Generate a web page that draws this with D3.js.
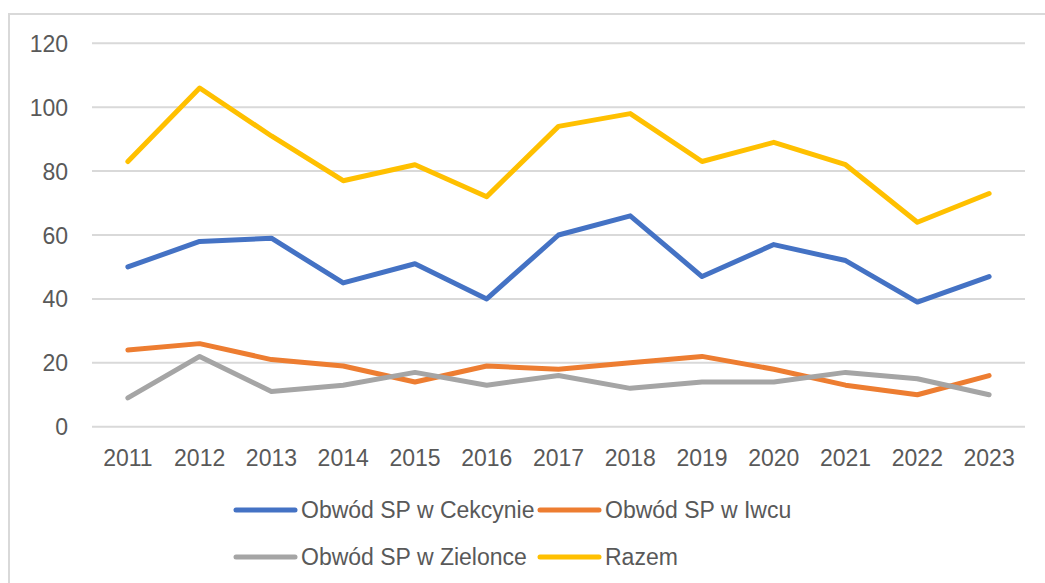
<!DOCTYPE html>
<html><head><meta charset="utf-8">
<script src="https://cdn.jsdelivr.net/npm/d3@7"></script>
<style>html,body{margin:0;padding:0;background:#fff;}svg{display:block;}</style>
</head><body>
<svg id="chart" width="1045" height="583"></svg>
<script>
const years = ["2011","2012","2013","2014","2015","2016","2017","2018","2019","2020","2021","2022","2023"];
const cekcyn = [50,58,59,45,51,40,60,66,47,57,52,39,47];
const iwiec = [24,26,21,19,14,19,18,20,22,18,13,10,16];
const zielonka = [9,22,11,13,17,13,16,12,14,14,17,15,10];
const razem = [83,106,91,77,82,72,94,98,83,89,82,64,73];
const yTicks = [0,20,40,60,80,100,120];
const seriesNames = ["Obwód SP w Cekcynie","Obwód SP w Iwcu","Obwód SP w Zielonce","Razem"];
const seriesColors = ["#4472C4","#ED7D31","#A5A5A5","#FFC000"];
const seriesData = [cekcyn, iwiec, zielonka, razem];

const svg = d3.select("#chart");
const font = "'Liberation Sans', Arial, sans-serif";
const textColor = "#595959";

// frame
svg.append("path").attr("d","M9,583 L9,14 L1045,14").attr("fill","none").attr("stroke","#D9D9D9").attr("stroke-width",2);

const x = d3.scaleBand().domain(years).range([92,1025]);
const y = d3.scaleLinear().domain([0,120]).range([426.7,43.3]);

// gridlines
svg.append("g").selectAll("line").data(yTicks).join("line")
  .attr("x1",92).attr("x2",1025)
  .attr("y1",d=>y(d)).attr("y2",d=>y(d))
  .attr("stroke","#D9D9D9").attr("stroke-width",2);

// y labels
const yAxis = d3.axisLeft(y).tickValues(yTicks).tickSize(0).tickPadding(0);
const gy = svg.append("g").attr("transform","translate(68,0)").call(yAxis);
gy.select(".domain").remove();
gy.selectAll("text").attr("font-family",font).attr("font-size",23).attr("fill",textColor).attr("dy","0.35em");

// x labels
const xAxis = d3.axisBottom(x).tickSize(0).tickPadding(0);
const gx = svg.append("g").attr("transform","translate(0,449)").call(xAxis);
gx.select(".domain").remove();
gx.selectAll("text").attr("font-family",font).attr("font-size",23).attr("fill",textColor).attr("dy","0.72em");

// lines
const line = d3.line().x((d,i)=>x(years[i])+x.bandwidth()/2).y(d=>y(d));
seriesData.forEach((s,k)=>{
  svg.append("path").datum(s).attr("d",line).attr("fill","none")
    .attr("stroke",seriesColors[k]).attr("stroke-width",5)
    .attr("stroke-linejoin","round").attr("stroke-linecap","round");
});

// legend
const legendPos = [[236,510],[540,510],[236,557],[540,557]];
seriesNames.forEach((n,k)=>{
  const [lx,ly] = legendPos[k];
  svg.append("line").attr("x1",lx).attr("x2",lx+59).attr("y1",ly).attr("y2",ly)
    .attr("stroke",seriesColors[k]).attr("stroke-width",5).attr("stroke-linecap","round");
  svg.append("text").attr("x",lx+65).attr("y",ly).attr("dy","0.35em")
    .attr("font-family",font).attr("font-size",23).attr("fill",textColor).text(n);
});
</script>
</body></html>
